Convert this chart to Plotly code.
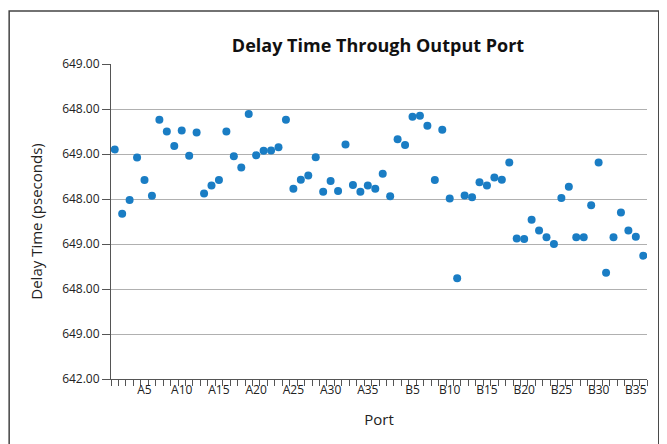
import plotly.graph_objects as go

# Porte A1..A36 e B1..B36
ports = [f"A{i}" for i in range(1, 37)] + [f"B{i}" for i in range(1, 37)]

# valori (unita' della griglia, 0 = fondo asse)
delay_a = [5.10, 3.67, 3.98, 4.92, 4.42, 4.07, 5.76, 5.50, 5.18, 5.52,
           4.96, 5.48, 4.12, 4.30, 4.42, 5.50, 4.95, 4.70, 5.89, 4.97,
           5.07, 5.08, 5.15, 5.76, 4.23, 4.43, 4.52, 4.93, 4.16, 4.40,
           4.18, 5.21, 4.31, 4.16, 4.30, 4.23]
delay_b = [4.56, 4.06, 5.33, 5.20, 5.83, 5.85, 5.63, 4.42, 5.54, 4.01,
           2.24, 4.08, 4.04, 4.37, 4.30, 4.48, 4.43, 4.81, 3.12, 3.11,
           3.54, 3.30, 3.15, 3.00, 4.02, 4.27, 3.15, 3.15, 3.86, 4.81,
           2.36, 3.15, 3.70, 3.30, 3.16, 2.74]
delay = delay_a + delay_b

y_ticktext = ["642.00", "649.00", "648.00", "649.00", "648.00", "649.00", "648.00", "649.00"]
x_labels = ["A5", "A10", "A15", "A20", "A25", "A30", "A35",
            "B5", "B10", "B15", "B20", "B25", "B30", "B35"]

FONT = "Open Sans, Noto Sans, sans-serif"
AX = "#555555"

idx = list(range(len(ports)))

fig = go.Figure(go.Scatter(
    x=idx,
    y=delay,
    mode="markers",
    marker=dict(color="#1a7dc4", size=8),
    text=ports,
    hovertemplate="%{text}<extra></extra>",
))

# la pagina aggiunge 8px di margine al body: margini compensati
fig.update_layout(
    width=667,
    height=444,
    paper_bgcolor="white",
    plot_bgcolor="white",
    showlegend=False,
    margin=dict(l=103, r=28, t=56, b=73),
    font=dict(family=FONT, color="#222222"),
    title=dict(
        text="<b>Delay Time Through Output Port</b>",
        x=0.5547, xanchor="center", y=0.914, yanchor="middle",
        font=dict(size=18, color="#111111", family=FONT),
    ),
    xaxis=dict(
        range=[-0.5, 71.5],
        tickmode="array",
        tickvals=[ports.index(l) for l in x_labels],
        ticktext=x_labels,
        ticks="",
        tickfont=dict(size=12, color="#222222"),
        showgrid=False,
        zeroline=False,
        showline=True, linecolor=AX, linewidth=1,
        minor=dict(ticks="outside", tick0=0.5, dtick=1, ticklen=6, tickcolor=AX, showgrid=False),
        title=dict(text="Port", font=dict(size=15, color="#222222"), standoff=17),
    ),
    yaxis=dict(
        range=[0, 7],
        tickmode="array",
        tickvals=list(range(8)),
        ticktext=y_ticktext,
        ticks="outside", ticklen=8, tickcolor=AX,
        tickfont=dict(size=12, color="#222222"),
        showgrid=True, gridcolor="#b0b0b0", gridwidth=1,
        zeroline=False,
        showline=True, linecolor=AX, linewidth=1,
        title=dict(text="Delay Time (pseconds)", font=dict(size=15, color="#222222"), standoff=15),
    ),
    shapes=[dict(
        type="rect", xref="paper", yref="paper",
        x0=-0.190, x1=1.022, y0=-0.26, y1=1.168,
        line=dict(color="#444444", width=1.5),
    )],
)

# niente barre di scorrimento nella pagina
fig.write_html("out.html", post_script="document.body.style.overflow='hidden';")
